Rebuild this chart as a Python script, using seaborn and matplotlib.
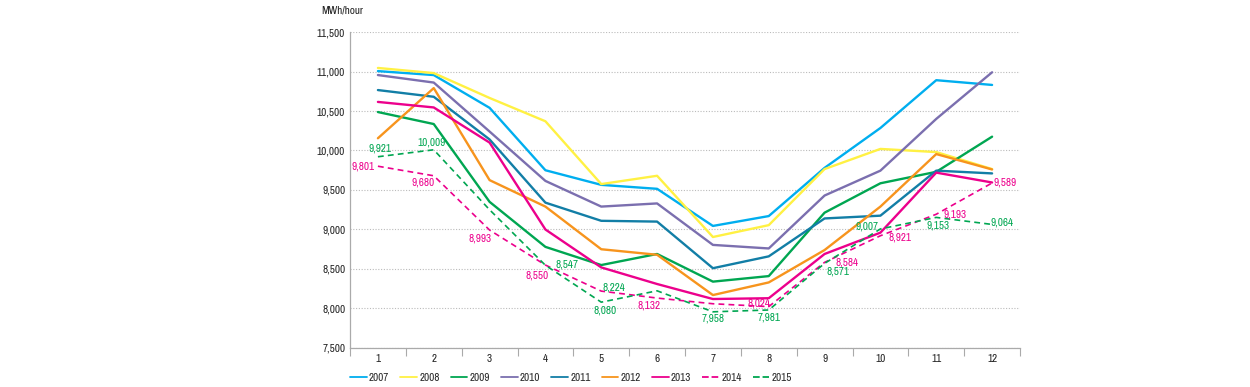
import matplotlib
matplotlib.use("Agg")
import matplotlib.pyplot as plt
import seaborn as sns
import pandas as pd
from matplotlib.ticker import FixedLocator, FuncFormatter

months = list(range(1, 13))
years = ["2007", "2008", "2009", "2010", "2011", "2012", "2013", "2014", "2015"]

y2007 = [11005, 10955, 10540, 9750, 9565, 9515, 9045, 9170, 9780, 10285, 10890, 10830]
y2008 = [11045, 10980, 10665, 10370, 9575, 9680, 8905, 9055, 9765, 10020, 9980, 9765]
y2009 = [10487, 10335, 9350, 8780, 8550, 8690, 8340, 8410, 9213, 9585, 9730, 10175]
y2010 = [10955, 10860, 10240, 9615, 9290, 9330, 8805, 8760, 9430, 9745, 10400, 10990]
y2011 = [10765, 10680, 10140, 9340, 9110, 9100, 8510, 8660, 9140, 9175, 9745, 9710]
y2012 = [10155, 10790, 9625, 9290, 8750, 8680, 8170, 8330, 8740, 9290, 9955, 9760]
y2013 = [10615, 10545, 10100, 9000, 8520, 8310, 8120, 8130, 8690, 8960, 9720, 9595]
y2014 = [9801, 9680, 8993, 8550, 8220, 8132, 8060, 8024, 8584, 8921, 9193, 9589]
y2015 = [9921, 10009, 9250, 8547, 8080, 8224, 7958, 7981, 8571, 9007, 9153, 9064]

# which points of the dashed series carry a value label
labels2014 = [1, 2, 3, 4, 6, 8, 9, 10, 11, 12]
labels2015 = [1, 2, 4, 5, 6, 7, 8, 9, 10, 11, 12]

colors = {"2007": "#00aeef", "2008": "#fff143", "2009": "#00a651", "2010": "#7b6faf",
          "2011": "#127ea6", "2012": "#f7941d", "2013": "#ec008c", "2014": "#ec008c",
          "2015": "#00a651"}

series = [y2007, y2008, y2009, y2010, y2011, y2012, y2013, y2014, y2015]
df = pd.DataFrame({
    "month": months * len(years),
    "value": [v for s in series for v in s],
    "year": [y for y in years for _ in months],
})

sns.set_style("white")
plt.rcParams["font.family"] = ["Liberation Sans Narrow", "Archivo Narrow", "DejaVu Sans"]
FS = 8

fig = plt.figure(figsize=(12.5, 3.87), dpi=100)
ax = fig.add_axes([0.28, 0.1008, 0.536, 0.8165])

dashes = {y: "" for y in years}
dashes["2014"] = (3.5, 2.5)
dashes["2015"] = (3.5, 2.5)
sns.lineplot(data=df, x="month", y="value", hue="year", style="year",
             palette=colors, dashes=dashes, linewidth=1.7, ax=ax, legend=False)
for ln in ax.lines[7:]:
    ln.set_linewidth(1.2)

# value labels: (offset x px, offset y px, ha)
off2014 = {1: (-3, 0, "right"), 2: (-11, -7, "center"), 3: (-10, -8, "center"),
           4: (-8, -10, "center"), 6: (-8, -7, "center"), 8: (-10, 3, "center"),
           9: (22, 0, "center"), 10: (20, -2, "center"), 11: (19, 0, "center"),
           12: (13, 0, "center")}
off2015 = {1: (2, 8, "center"), 2: (-2, 7, "center"), 4: (22, 1, "center"),
           5: (4, -8, "center"), 6: (-43, 3, "center"), 7: (0, -7, "center"),
           8: (0, -8, "center"), 9: (13, -8, "center"), 10: (-13, 2, "center"),
           11: (2, -8, "center"), 12: (10, 2, "center")}
for vals, idx, offs, c in [(y2014, labels2014, off2014, colors["2014"]),
                           (y2015, labels2015, off2015, colors["2015"])]:
    for m in idx:
        dx, dy, ha = offs[m]
        ax.annotate(f"{vals[m - 1]:,}", (m, vals[m - 1]), xytext=(dx, dy),
                    textcoords="offset pixels", ha=ha, va="center",
                    fontsize=FS, color=c)

ax.set_xlim(0.5, 12.5)
ax.set_ylim(7500, 11500)
ax.set_yticks(range(7500, 12000, 500))
ax.yaxis.set_major_formatter(FuncFormatter(lambda v, p: f"{int(v):,}"))
ax.set_xticks(months)
ax.xaxis.set_minor_locator(FixedLocator([m + 0.5 for m in range(0, 13)]))
ax.tick_params(axis="x", which="major", bottom=False, length=0, pad=4,
               labelsize=FS, colors="#222222")
ax.tick_params(axis="x", which="minor", bottom=True, length=6, width=0.8,
               color="#aaaaaa", direction="out")
ax.tick_params(axis="y", left=False, length=0, pad=3.5, labelsize=FS, colors="#222222")
ax.grid(axis="y", linestyle=(0, (1, 1.5)), color="#bbbbbb", linewidth=0.8)
ax.set_axisbelow(True)
for s in ["top", "right"]:
    ax.spines[s].set_visible(False)
for s in ["left", "bottom"]:
    ax.spines[s].set_color("#aaaaaa")
    ax.spines[s].set_linewidth(0.9)
ax.set_xlabel("")
ax.set_ylabel("")

fig.text(0.257, 0.973, "MWh/hour", fontsize=FS, color="#222222", ha="left", va="center")

handles = [plt.Line2D([], [], color=colors[y], linewidth=1.3,
                      linestyle="--" if y in ("2014", "2015") else "-") for y in years]
ax.legend(handles, years, loc="upper left", bbox_to_anchor=(0.0, -0.08), ncol=9,
          frameon=False, fontsize=FS, handlelength=1.5, handletextpad=0.2,
          columnspacing=1.0, borderaxespad=0, borderpad=0)

fig.savefig("out.png", dpi=100)
